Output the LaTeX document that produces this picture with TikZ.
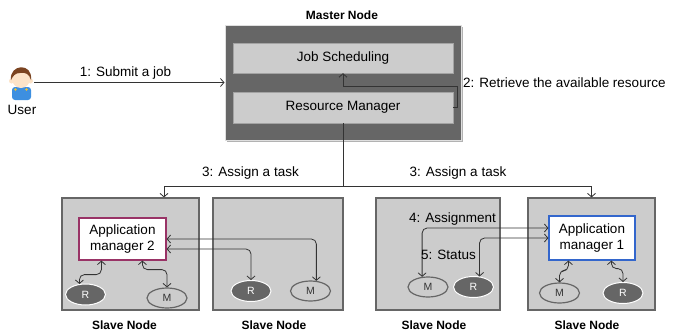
\documentclass[tikz,border=0pt]{standalone}
\usepackage{fontspec}
\setmainfont{Liberation Sans}
\usetikzlibrary{arrows.meta,calc,shadows,shapes.geometric}
\definecolor{dk}{HTML}{666666}
\definecolor{lt}{HTML}{CCCCCC}
\definecolor{ln}{HTML}{333333}
\definecolor{amtwo}{HTML}{993366}
\definecolor{amone}{HTML}{3366CC}
\definecolor{skin}{HTML}{FCE3C8}
\definecolor{hairc}{HTML}{7B4421}
\definecolor{bodyblue}{HTML}{3D8FE0}
\definecolor{btn}{HTML}{F2C12E}
\begin{document}
\begin{tikzpicture}[x=1pt,y=-1pt,
  lbl/.style={font=\fontsize{13.5}{16}\selectfont, inner sep=0pt, text=black},
  blbl/.style={font=\fontsize{12}{14}\bfseries\selectfont, inner sep=0pt},
  masterbox/.style={draw=gray!25, line width=1pt, fill=dk, minimum width=236pt, minimum height=115pt,
     drop shadow={shadow xshift=2pt, shadow yshift=-2pt, fill=black, opacity=0.3}},
  innerbox/.style={fill=lt, draw=lt!80!black, line width=0.4pt, minimum width=220pt, inner sep=0pt,
     font=\fontsize{13.5}{16}\selectfont},
  slavebox/.style={draw=dk, line width=1.2pt, fill=lt, minimum height=112pt, inner sep=0pt},
  ambox/.style={fill=white, line width=1.2pt, align=center, inner sep=0pt,
     font=\fontsize{13.5}{15.5}\selectfont},
  rnode/.style={ellipse, fill=dk, draw=white, line width=1pt, minimum width=40pt, minimum height=21pt,
     inner sep=0pt, text=white, font=\fontsize{10.5}{12}\selectfont},
  mnode/.style={ellipse, fill=lt, draw=dk, line width=1.2pt, minimum width=40pt, minimum height=20pt,
     inner sep=0pt, text=ln, font=\fontsize{10.5}{12}\selectfont},
  arr/.style={draw=ln, line width=0.8pt, -{Straight Barb[length=3.5pt,width=8pt]}},
  darr/.style={draw=ln, line width=0.8pt, {Straight Barb[length=3.5pt,width=8pt]}-{Straight Barb[length=3.5pt,width=8pt]},
     rounded corners=5pt},
]
\useasboundingbox (0,0) rectangle (673,335);

% User icon
\node[minimum width=26pt, minimum height=35pt, inner sep=0pt] (user) at (21,82.5) {};
\fill[bodyblue, rounded corners=3pt] (12,87) rectangle (31,100);
\fill[skin] (11.5,81) circle (2.5);
\fill[skin] (30.5,81) circle (2.5);
\fill[skin] (21,79) circle (9);
\fill[hairc] (11,80) .. controls (9,64) and (33,62) .. (31,80) .. controls (29,74) and (26,72) .. (20,73) .. controls (15,73) and (13,76) .. (11,80) -- cycle;
\fill[btn] (15.5,89.5) circle (1.3);
\fill[btn] (26.5,89.5) circle (1.3);
\node[lbl, anchor=base] (userlbl) at (22,114) {User};

% Master node
\node[masterbox] (master) at (343,82.5) {};
\node[innerbox, minimum height=30pt] (js) at (343,58) {Job Scheduling};
\node[innerbox, minimum height=31pt] (rm) at (343,107.5) {Resource Manager};
\node[blbl, anchor=base] (masterlbl) at (342,19) {Master Node};

% 1: submit
\draw[arr] (user.east) -- (master.west);
\node[lbl, anchor=base] (l1) at (125.5,76) {1: Submit a job};

% 2: retrieve
\draw[arr] (rm.east) -- ++(4,0) |- ($(js.south)+(0,13)$) -- (js.south);
\node[lbl, anchor=base west] (l2) at (463,87.5) {2: Retrieve the available resource};

% Slave nodes
\node[slavebox, minimum width=137pt] (s1) at (130.5,254) {};
\node[slavebox, minimum width=130pt] (s2) at (278,254) {};
\node[slavebox, minimum width=124pt] (s3) at (438,254) {};
\node[slavebox, minimum width=127pt] (s4) at (591.5,254) {};
\node[blbl, anchor=base] (sl1) at (124.5,329) {Slave Node};
\node[blbl, anchor=base] (sl2) at (274,329) {Slave Node};
\node[blbl, anchor=base] (sl3) at (434,329) {Slave Node};
\node[blbl, anchor=base] (sl4) at (587,329) {Slave Node};

% 3: assign
\coordinate (split) at ($(rm.south)+(0,63)$);
\draw[arr] (rm.south) -- (split) -| ($(s1.north)+(33.5,0)$);
\draw[arr] (split) -| (s4.north);
\node[lbl, anchor=base] (l3a) at (250.5,176) {3: Assign a task};
\node[lbl, anchor=base] (l3b) at (458,176) {3: Assign a task};

% Application managers
\node[ambox, draw=amtwo, minimum width=87pt, minimum height=42pt] (am2) at (122.5,239) {Application\\manager 2};
\node[ambox, draw=amone, minimum width=86pt, minimum height=44pt] (am1) at (592,238) {Application\\manager 1};

% Ellipses
\node[rnode] (r1) at (85.5,294.5) {R};
\node[mnode] (m1) at (167,298) {M};
\node[rnode] (r2) at (251,291) {R};
\node[mnode] (m2) at (310.5,291) {M};
\node[mnode] (m3) at (428,287) {M};
\node[rnode] (r3) at (473.5,287) {R};
\node[mnode] (m4) at (559.5,293) {M};
\node[rnode] (r4) at (623,293) {R};

% Connectors in slave 1
\draw[darr] ($(am2.south west)+(23,0)$) -- ++(0,14) -| (r1.120);
\draw[darr] ($(am2.south west)+(64,0)$) -- ++(0,9) -| (m1.north);
% AM2 to slave 2
\draw[darr] (am2.east) -| (m2.60);
\draw[darr] ($(am2.east)+(0,10)$) -| (r2.north);
% AM1 to slave 3
\draw[darr] ($(am1.west)+(0,-10)$) -| (m3.120);
\draw[darr] (am1.west) -| (r3.60);
\node[lbl, anchor=base] (l4) at (452.5,222) {4: Assignment};
\node[lbl, anchor=base] (l5) at (448.5,259) {5: Status};
% Connectors in slave 4
\draw[darr] ($(am1.south west)+(20,0)$) -- ++(0,10) -| (m4.north);
\draw[darr] ($(am1.south west)+(63,0)$) -- ++(0,8) -| (r4.north);
\end{tikzpicture}
\end{document}
